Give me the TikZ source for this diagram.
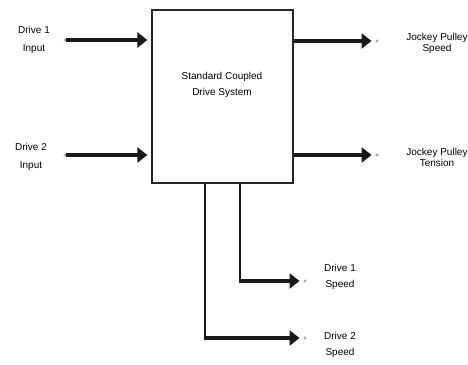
\documentclass[tikz,border=0pt]{standalone}
\usepackage{fontspec}
\setmainfont{Liberation Sans}
\usetikzlibrary{positioning,arrows.meta}

\begin{document}
\begin{tikzpicture}[x=1pt, y=-1pt, >={Triangle[length=10pt,width=15pt]},
    box/.style={draw=black!85, line width=1.2pt, rectangle, minimum width=141pt, minimum height=173pt, inner sep=0pt},
    lbl/.style={font=\fontsize{10}{16}\selectfont, align=center, inner sep=1pt, text=black},
    port/.style={circle, draw=black!45, line width=0.4pt, minimum size=2.5pt, inner sep=0pt},
    flow/.style={->, line width=4.5pt, draw=black!90},
    tap/.style={line width=2pt, draw=black!90}]

  \useasboundingbox (0,0) rectangle (468,364);

  \node[box] (sys) at (222.5,96.5) {};
  \node[lbl] (sysname) at (222,85) {Standard Coupled\\Drive System};

  % inputs
  \node[port] (in1) at (65,40) {};
  \node[port] (in2) at (65,155) {};
  \node[lbl] (in1lbl) at (34,40) {Drive 1\\[2pt]Input};
  \node[lbl] (in2lbl) at (31,157) {Drive 2\\[2pt]Input};
  \draw[flow, shorten >=4pt] (in1) -- (sys.west |- in1);
  \draw[flow, shorten >=4pt] (in2) -- (sys.west |- in2);

  % outputs
  \node[port] (out1) at (377,41) {};
  \node[port] (out2) at (377,155) {};
  \node[lbl] (out1lbl) at (437,43) {Jockey Pulley\\[-5pt]Speed};
  \node[lbl] (out2lbl) at (437,157) {Jockey Pulley\\[-5pt]Tension};
  \draw[flow, shorten >=4pt] (sys.east |- out1) -- (out1);
  \draw[flow, shorten >=4pt] (sys.east |- out2) -- (out2);

  % speed taps
  \coordinate (k1) at ([xshift=17pt]sys.south);
  \coordinate (k2) at ([xshift=-17.5pt]sys.south);
  \node[port] (sp1) at (305,281) {};
  \node[port] (sp2) at (305,338) {};
  \node[lbl] (sp1lbl) at (340,277) {Drive 1\\Speed};
  \node[lbl] (sp2lbl) at (340,345) {Drive 2\\Speed};
  \draw[tap] (k1) -- (k1 |- sp1);
  \draw[tap] (k2) -- (k2 |- sp2);
  \draw[flow, line width=3.5pt, shorten >=4pt] ([xshift=-1pt]k1 |- sp1) -- (sp1);
  \draw[flow, line width=3.5pt, shorten >=4pt] ([xshift=-1pt]k2 |- sp2) -- (sp2);
\end{tikzpicture}
\end{document}
